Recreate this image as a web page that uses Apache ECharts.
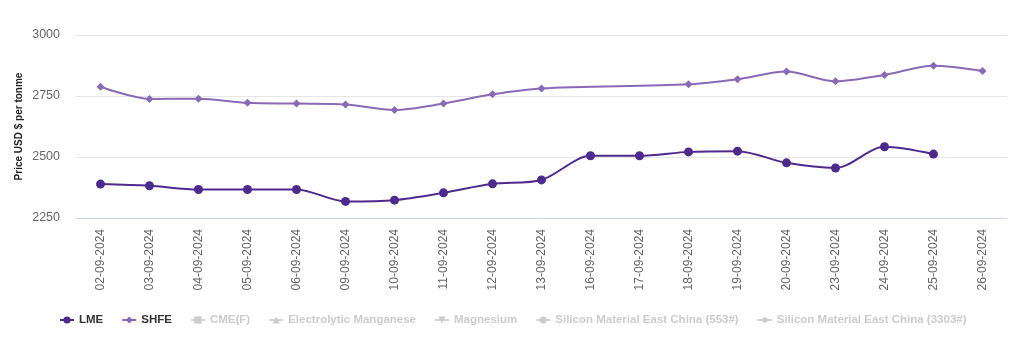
<!DOCTYPE html>
<html>
<head>
<meta charset="utf-8">
<script src="https://cdn.jsdelivr.net/npm/echarts@6/dist/echarts.min.js"></script>
<style>
html,body{margin:0;padding:0;background:#fff;}
#chart{width:1016px;height:341px;}
</style>
</head>
<body>
<div id="chart"></div>
<script>
const categories = ['02-09-2024','03-09-2024','04-09-2024','05-09-2024','06-09-2024','09-09-2024','10-09-2024','11-09-2024','12-09-2024','13-09-2024','16-09-2024','17-09-2024','18-09-2024','19-09-2024','20-09-2024','23-09-2024','24-09-2024','25-09-2024','26-09-2024'];
const lme  = [2389,2382,2367,2367,2367,2318,2323,2353,2390,2406,2505,2505,2521,2524,2476,2455,2542,2512,null];
const shfe = [2788,2738,2739,2722,2719,2715,2693,2719,2757,2781,null,null,2798,2819,2850,2810,2836,2874,2852];
const yTicks = [2250,2500,2750,3000];
const hiddenSeries = ['CME(F)','Electrolytic Manganese','Magnesium','Silicon Material East China (553#)','Silicon Material East China (3303#)'];

const chart = echarts.init(document.getElementById('chart'), null, {renderer:'canvas'});
const FONT = '"Liberation Sans", Arial, sans-serif';
const hiddenIcons = ['rect','triangle','path://M0,0 L10,0 L5,9 Z','circle','diamond'];
const selected = {};
hiddenSeries.forEach(n => selected[n] = false);

const series = [
  {name:'LME', type:'line', data:lme, smooth:0.3, symbol:'circle', symbolSize:9,
   lineStyle:{width:2,color:'#4e2a8e'}, itemStyle:{color:'#4e2a8e'}},
  {name:'SHFE', type:'line', data:shfe, smooth:0.3, connectNulls:true, symbol:'diamond', symbolSize:8,
   lineStyle:{width:2,color:'#8a69b6'}, itemStyle:{color:'#8a69b6'}}
];
hiddenSeries.forEach((n,i) => series.push({name:n, type:'line', data:[], symbol:hiddenIcons[i], symbolSize:8,
  itemStyle:{color:'#ccc'}, lineStyle:{color:'#ccc', width:2}}));

chart.setOption({
  animation:false,
  grid:{left:76, right:9, top:35, bottom:123, containLabel:false},
  legend:{
    bottom:10, left:54, itemGap:18, itemWidth:14, itemHeight:9,
    selected:selected, inactiveColor:'#cccccc',
    textStyle:{fontFamily:FONT, fontSize:11.5, fontWeight:'bold', color:'#333'},
    data:['LME','SHFE'].concat(hiddenSeries)
  },
  xAxis:{
    type:'category', data:categories, boundaryGap:true,
    axisLine:{lineStyle:{color:'#ccd6eb'}},
    axisTick:{show:false},
    axisLabel:{rotate:90, fontFamily:FONT, fontSize:12, color:'#666', margin:11}
  },
  yAxis:{
    type:'value', min:yTicks[0], max:yTicks[yTicks.length-1], interval:250,
    name:'Price USD $ per tonme', nameLocation:'middle', nameGap:52, nameMoveOverlap:false,
    nameTextStyle:{fontFamily:FONT, fontSize:10, fontWeight:'bold', color:'#222'},
    axisLine:{show:false}, axisTick:{show:false},
    splitLine:{lineStyle:{color:'#e6e6e6'}},
    axisLabel:{fontFamily:FONT, fontSize:12.5, color:'#666', margin:16, formatter:v => String(v)}
  },
  series:series
});
</script>
</body>
</html>
